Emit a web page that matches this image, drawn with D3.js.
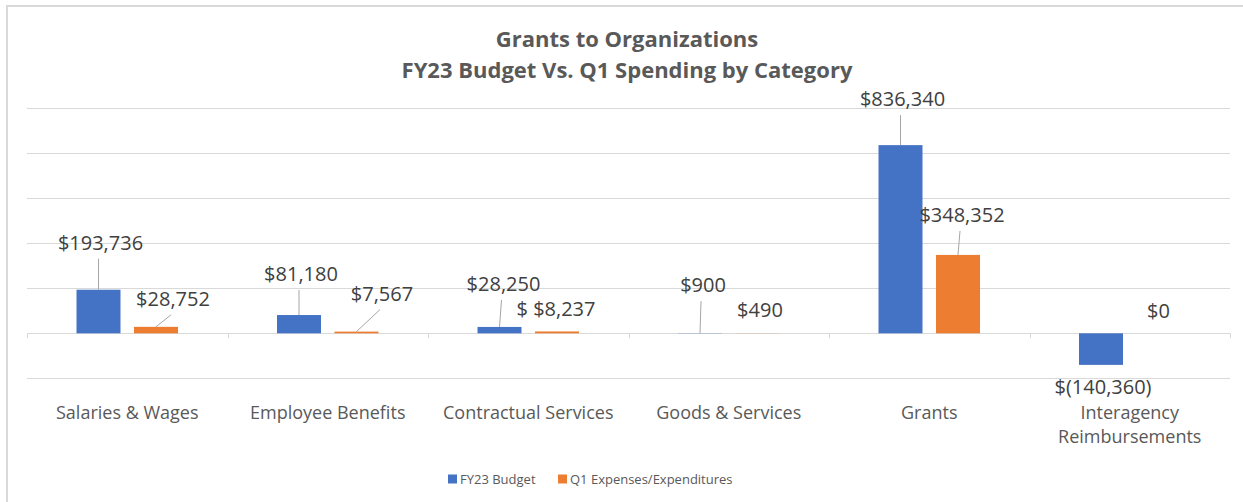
<!DOCTYPE html>
<html lang="en">
<head>
<meta charset="utf-8">
<title>Grants to Organizations</title>
<script src="https://cdn.jsdelivr.net/npm/d3@7"></script>
<style>
body { margin: 0; background: #fff; }
text { font-family: "Open Sans", sans-serif; }
.grid line { stroke: #d9d9d9; stroke-width: 1px; shape-rendering: crispEdges; }
.grid path { display: none; }
.cat text { fill: #595959; font-size: 18px; }
.cat path, .cat line { display: none; }
.lbl { fill: #404040; font-size: 20px; }
</style>
</head>
<body>
<script>
var w = 1243, h = 502;

// data
var categories = ["Salaries & Wages", "Employee Benefits", "Contractual Services",
                  "Goods & Services", "Grants", "Interagency Reimbursements"];
var seriesNames = ["FY23 Budget", "Q1 Expenses/Expenditures"];
var budget = [193736, 81180, 28250, 900, 836340, -140360];
var spending = [28752, 7567, 8237, 490, 348352, 0];
var budgetLabels = ["$193,736", "$81,180", "$28,250", "$900", "$836,340", "$(140,360)"];
var spendingLabels = ["$28,752", "$7,567", "$ $8,237", "$490", "$348,352", "$0"];
var yTicks = [-200000, 0, 200000, 400000, 600000, 800000, 1000000];

// label nudges (px, from the end of each bar)
var budgetLabelOffset = [[2, -40], [2, -34], [4, -36], [3, -41], [2, -39], [2, 29]];
var spendingLabelOffset = [[17, -21], [25.5, -31], [-1, -15], [2.5, -16], [4, -33], [0, -15]];

var colors = ["#4472C4", "#ED7D31"];
var plotLeft = 27, plotRight = 1230, plotTop = 108.3, plotBottom = 378.3;

var svg = d3.select("body").append("svg")
    .attr("width", w).attr("height", h);

// frame
svg.append("rect")
   .attr("x", 7).attr("y", 6).attr("width", w + 20).attr("height", h + 20)
   .attr("fill", "none").attr("stroke", "#d9d9d9").attr("stroke-width", 2);

// title
svg.append("text").attr("x", 627).attr("y", 47).attr("text-anchor", "middle")
   .attr("font-size", "22px").attr("font-weight", "bold").attr("fill", "#595959")
   .text("Grants to Organizations");
svg.append("text").attr("x", 627).attr("y", 78).attr("text-anchor", "middle")
   .attr("font-size", "22px").attr("font-weight", "bold").attr("fill", "#595959")
   .text("FY23 Budget Vs. Q1 Spending by Category");

var xScale = d3.scaleBand().domain(categories).range([plotLeft, plotRight]);
var xSub = d3.scaleBand().domain(seriesNames).range([0, xScale.bandwidth()])
             .paddingInner(0.235).paddingOuter(0.861);
var yScale = d3.scaleLinear().domain([-200000, 1000000]).range([plotBottom, plotTop]);

// gridlines
svg.append("g").attr("class", "grid")
   .attr("transform", "translate(" + plotLeft + ",0)")
   .call(d3.axisLeft(yScale).tickValues(yTicks).tickSize(-(plotRight - plotLeft)).tickFormat(""));

// category boundary ticks
var y0 = yScale(0);
svg.selectAll("line.tick-mark")
   .data(categories.concat(["end"]))
   .enter().append("line")
   .attr("class", "tick-mark")
   .attr("x1", function(d, i) { return Math.round(plotLeft + i * xScale.step()) + 0.5; })
   .attr("x2", function(d, i) { return Math.round(plotLeft + i * xScale.step()) + 0.5; })
   .attr("y1", y0).attr("y2", y0 + 5)
   .attr("stroke", "#d9d9d9");

// bars
var rows = [];
categories.forEach(function(c, i) {
  rows.push({cat: c, s: seriesNames[0], v: budget[i], t: budgetLabels[i], off: budgetLabelOffset[i], k: 0});
  rows.push({cat: c, s: seriesNames[1], v: spending[i], t: spendingLabels[i], off: spendingLabelOffset[i], k: 1});
});

svg.selectAll("rect.bar")
   .data(rows)
   .enter().append("rect")
   .attr("class", "bar")
   .attr("x", function(d) { return xScale(d.cat) + xSub(d.s); })
   .attr("width", xSub.bandwidth())
   .attr("y", function(d) { return yScale(Math.max(0, d.v)); })
   .attr("height", function(d) { return Math.abs(yScale(d.v) - yScale(0)); })
   .attr("fill", function(d) { return colors[d.k]; });

function cx(d) { return xScale(d.cat) + xSub(d.s) + xSub.bandwidth() / 2; }

// leader lines
svg.selectAll("line.leader")
   .data(rows.filter(function(d) { return d.off[1] < -18; }))
   .enter().append("line")
   .attr("class", "leader")
   .attr("x1", function(d) { return cx(d) + d.off[0] - 2; })
   .attr("y1", function(d) { return yScale(d.v) + d.off[1] + 9; })
   .attr("x2", function(d) { return cx(d); })
   .attr("y2", function(d) { return yScale(d.v); })
   .attr("stroke", "#a6a6a6").attr("stroke-width", 1);

// data labels
svg.selectAll("text.lbl")
   .data(rows)
   .enter().append("text")
   .attr("class", "lbl")
   .attr("text-anchor", "middle")
   .attr("x", function(d) { return cx(d) + d.off[0]; })
   .attr("y", function(d) { return yScale(d.v) + d.off[1]; })
   .text(function(d) { return d.t; });

// category axis
var catAxis = svg.append("g").attr("class", "cat")
   .attr("transform", "translate(0," + 406 + ")")
   .call(d3.axisBottom(xScale).tickSize(0).tickPadding(0));
catAxis.selectAll("text").call(wrap, xScale.bandwidth() - 10);

function wrap(sel, width) {
  sel.each(function() {
    var text = d3.select(this), words = text.text().split(/\s+/);
    var line = [];
    var tspan = text.text(null).append("tspan").attr("x", 0).attr("dy", "0.71em");
    words.forEach(function(word) {
      line.push(word);
      tspan.text(line.join(" "));
      if (tspan.node().getComputedTextLength() > width && line.length > 1) {
        line.pop();
        tspan.text(line.join(" "));
        line = [word];
        tspan = text.append("tspan").attr("x", 0).attr("dy", "1.33em").text(word);
      }
    });
  });
}

// legend
var legend = svg.append("g").attr("transform", "translate(0,479)");
var legX = [448, 558];
seriesNames.forEach(function(s, i) {
  legend.append("rect").attr("x", legX[i]).attr("y", -4.5).attr("width", 9).attr("height", 9)
        .attr("fill", colors[i]);
  legend.append("text").attr("x", legX[i] + 12).attr("y", 0).attr("dy", "0.35em")
        .attr("font-size", "13px").attr("fill", "#595959").text(s);
});
</script>
</body>
</html>
